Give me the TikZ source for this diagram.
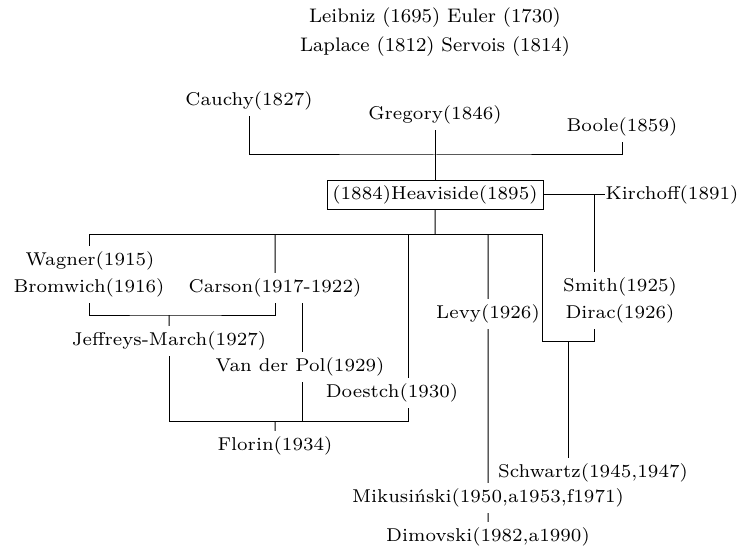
\documentclass[tikz,border=0pt]{standalone}
\usepackage{amsmath}
\usepackage{tikz}
\usetikzlibrary{arrows}

\begin{document}
\begin{tikzpicture}[x=1pt,y=-1pt]
\tikzset{person/.style = {font=\fontsize{7}{8}\selectfont,scale=2.65,inner sep=2pt}}
\tikzset{elder/.style = {font=\fontsize{8}{9.6}\selectfont,scale=2.45,inner sep=0pt}}
\tikzset{edge/.style = {-,line width=1pt}}
\useasboundingbox (0,0) rectangle (739,548);
% vertices
\node[elder] (leib) at (435,18) {Leibniz (1695) Euler (1730)};
\node[elder] (lapl) at (435,47) {Laplace (1812) Servois (1814)};
\node[person] (cauchy) at (249,101) {Cauchy(1827)};
\node[person] (gregory) at (435,115) {Gregory(1846)};
\node[person] (boole) at (622,127) {Boole(1859)};
\node[person,draw,line width=0.35pt] (heav) at (435,195) {(1884)Heaviside(1895)};
\node[person,anchor=west,inner xsep=0pt] (kirch) at (605,195) {Kirchoff(1891)};
\node[person] (wagner) at (90,261) {Wagner(1915)};
\node[person] (brom) at (89,288) {Bromwich(1916)};
\node[person] (carson) at (275,288) {Carson(1917-1922)};
\node[person] (smith) at (620,287) {Smith(1925)};
\node[person] (dirac) at (620,314) {Dirac(1926)};
\node[person] (levy) at (488,314) {Levy(1926)};
\node[person] (jeff) at (169,341) {Jeffreys-March(1927)};
\node[person] (vdp) at (300,367) {Van der Pol(1929)};
\node[person] (doestch) at (392,393) {Doestch(1930)};
\node[person] (florin) at (275,446) {Florin(1934)};
\node[person] (schwartz) at (593,473) {Schwartz(1945,1947)};
\node[person] (mik) at (488,498) {Mikusi\'nski(1950,a1953,f1971)};
\node[person] (dim) at (488,537) {Dimovski(1982,a1990)};
% joints
\coordinate (t1) at (435,155);
\coordinate (h1) at (89,235);
\coordinate (h2) at (542,235);
\coordinate (k1) at (594,195);
\coordinate (d1) at (594,341);
\coordinate (s1) at (568,341);
\coordinate (b1) at (169,315);
\coordinate (v1) at (302,421);
\coordinate (f1) at (408,421);
%edges
\draw[edge] (cauchy) |- (t1) -| (boole);
\draw[edge] (gregory) to (heav);
\draw[edge] (heav) to (kirch);
\draw[edge] (k1) to (k1 |- smith.north);
\draw[edge] (heav) to (heav |- h1);
\draw[edge] (h1 |- wagner.north) -- (h1) -- (h2) |- (d1) -- (d1 |- dirac.south);
\draw[edge] (s1) to (s1 |- schwartz.north);
\draw[edge] (carson) to (carson |- h1);
\draw[edge] (levy) to (levy |- h1);
\draw[edge] (f1 |- h1) to (f1 |- doestch.north);
\draw[edge] (brom) |- (b1) -| (carson);
\draw[edge] (b1) to (jeff);
\draw[edge] (v1 |- carson.south) to (v1 |- vdp.north);
\draw[edge] (v1 |- vdp.south) to (v1);
\draw[edge] (jeff) |- (f1) -- (f1 |- doestch.south);
\draw[edge] (florin) to (florin |- f1);
\draw[edge] (levy) to (mik);
\draw[edge] (mik) to (dim);
\end{tikzpicture}
\end{document}
